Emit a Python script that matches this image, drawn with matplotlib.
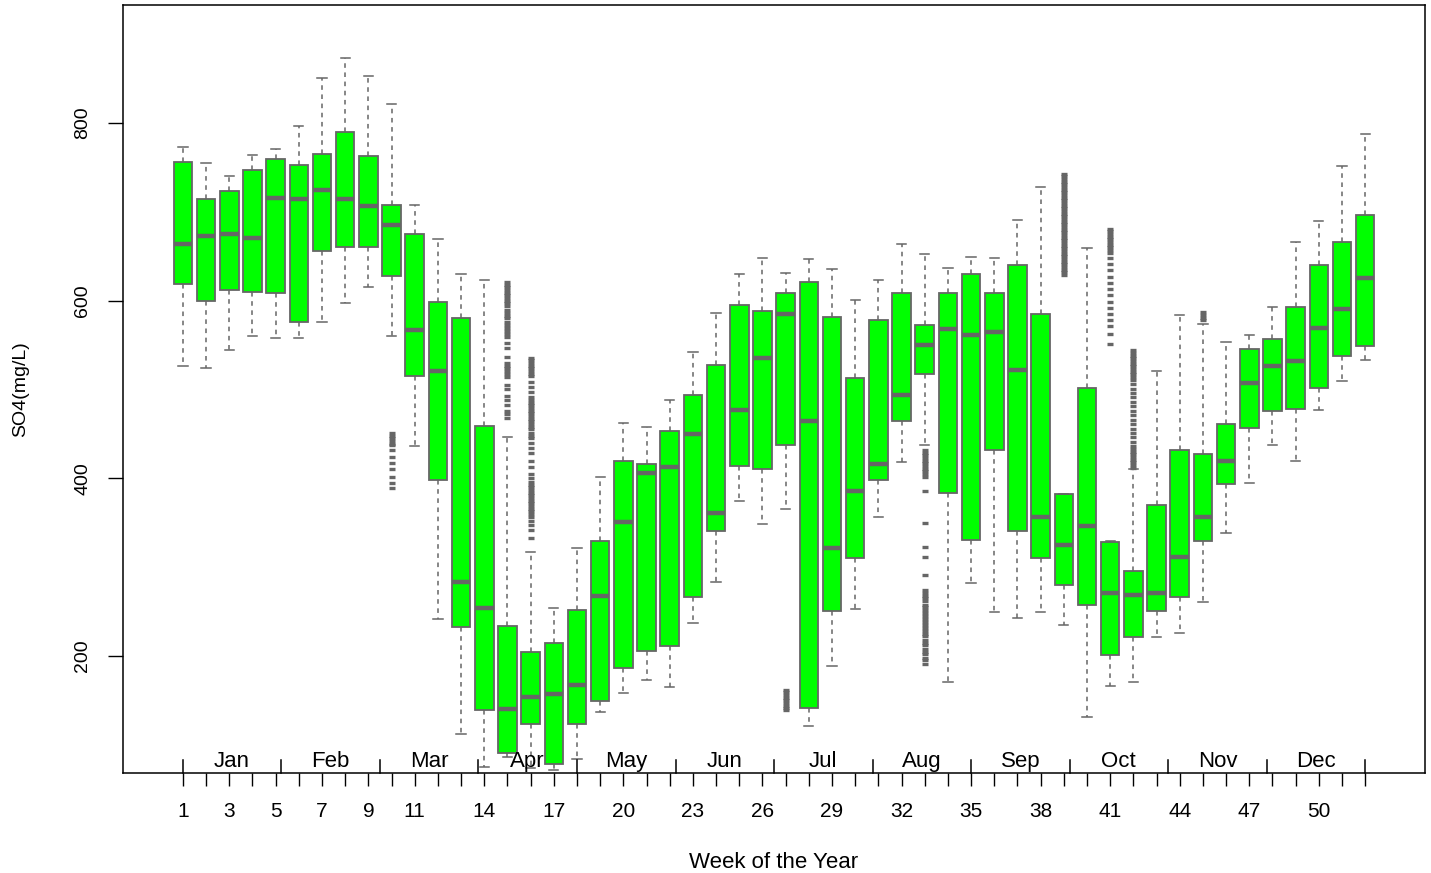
import numpy as np
import matplotlib.pyplot as plt
from matplotlib.transforms import blended_transform_factory

plt.rcParams['font.family'] = ['Liberation Sans', 'DejaVu Sans']

# weekly SO4 box statistics (mg/L), weeks 1..52
weeks = list(range(1, 53))
q1 = [618.5, 600, 612, 610, 609, 576, 656, 660, 660, 628,
      515, 398, 233, 139, 91, 123, 78.5, 124, 149, 187,
      206, 211, 266, 341, 414, 410, 437, 141, 251, 310,
      398, 465, 518, 384, 331, 432, 341, 310, 280, 257.5,
      201, 221, 251, 267, 329, 394, 457, 476, 478.5, 502,
      538, 549]
med = [664, 673, 675, 671, 716, 714, 725, 714, 707, 685,
       567, 521, 283, 254, 140, 154, 157, 167, 268, 351,
       406, 413, 450, 361, 477, 536, 585, 464, 322, 386,
       416, 494, 550, 568, 561, 565, 522, 356, 325, 346,
       271, 269, 271, 311, 356, 420, 507, 526, 532, 569,
       591, 626]
q3 = [756, 714.5, 723.5, 747.5, 760, 753, 765, 789.5, 763, 708,
      675, 598.5, 580, 458.6, 234, 204, 215, 251.6, 330, 420,
      415.8, 453.3, 494.2, 527.6, 595.2, 588, 609, 621.4, 582, 513.4,
      578.3, 608.3, 573, 608.7, 630, 608.3, 639.8, 585, 382, 501.7,
      328, 296, 370, 432.3, 427, 461.6, 545.2, 556.5, 592.9, 640.5,
      665.7, 696.5]
whis_lo = [526, 524, 544.5, 560, 558, 558, 576, 597, 615, 560,
           436.5, 242, 112, 75.5, 86, 74, 72, 84.5, 137, 158,
           173, 165, 237, 283, 375, 349, 365, 121, 188.5, 253,
           356, 418, 437, 171, 282, 250, 243, 250, 235, 131,
           166, 171, 221.5, 226, 260.5, 338, 395, 437.6, 420, 477,
           509.6, 533]
whis_hi = [773, 755, 740, 764, 771, 797, 851, 873, 853, 821,
           708, 669, 630, 623, 447, 317.5, 254.5, 322, 401, 462,
           458, 488, 542, 586.5, 630, 648, 631, 647, 636, 601,
           623, 664, 653, 636.5, 649.5, 648, 690.5, 728, 382, 659,
           330, 410, 521, 584, 574, 554, 561, 593, 666, 690,
           751, 788]

# outliers by week
outliers = {
    10: [451, 448, 445, 442, 439, 437, 432, 424, 417, 410, 402, 395, 389],
    15: [621, 618, 615, 612, 609, 606, 603, 600, 597, 594, 590, 586, 583,
         580, 576, 573, 569, 566, 562, 559, 552, 547, 537, 530, 527, 524,
         521, 518, 514, 505, 500, 493, 488, 483, 476, 472, 468],
    16: [536, 533, 530, 527, 524, 521, 518, 515, 509, 503, 497, 491, 488,
         485, 482, 479, 476, 473, 470, 467, 464, 461, 458, 455, 451, 448,
         445, 440, 434, 428, 420, 413, 405, 400, 396, 393, 390, 387, 384,
         381, 378, 375, 372, 369, 366, 363, 360, 357, 352, 347, 342, 333],
    27: [162, 159, 156, 153, 150, 147, 144, 141, 139],
    33: [432, 429, 426, 423, 420, 417, 414, 411, 408, 405, 402, 386, 350,
         323, 312, 291, 274, 271, 268, 265, 262, 258, 255, 252, 248, 245,
         242, 238, 235, 231, 228, 225, 222, 218, 215, 212, 208, 205, 202,
         198, 195, 191],
    39: [743, 740, 737, 734, 731, 728, 725, 722, 719, 716, 713, 710, 707,
         704, 701, 698, 695, 692, 689, 686, 683, 680, 677, 674, 671, 668,
         665, 662, 659, 656, 653, 650, 647, 644, 641, 638, 635, 632, 629],
    41: [681, 678, 675, 672, 669, 666, 663, 660, 657, 654, 648, 641, 634,
         627, 620, 613, 606, 599, 592, 585, 578, 571, 562, 551],
    42: [544, 541, 538, 535, 532, 529, 526, 523, 520, 517, 514, 511, 506,
         501, 496, 491, 486, 481, 476, 471, 466, 461, 456, 451, 446, 441,
         436, 433, 430, 427, 424, 421, 418, 415, 412],
    45: [587, 584, 581, 578],
}

months = ["Jan", "Feb", "Mar", "Apr", "May", "Jun",
          "Jul", "Aug", "Sep", "Oct", "Nov", "Dec"]
week_labels = [1, 3, 5, 7, 9, 11, 14, 17, 20, 23, 26, 29, 32, 35, 38, 41, 44, 47, 50]

stats = []
for i, w in enumerate(weeks):
    stats.append(dict(med=med[i], q1=q1[i], q3=q3[i],
                      whislo=whis_lo[i], whishi=whis_hi[i],
                      fliers=outliers.get(w, [])))

fig = plt.figure(figsize=(14.31, 8.73), dpi=100)
ax = fig.add_axes([0.086, 0.1145, 0.9098, 0.8798])

gray = "#666666"
ax.bxp(stats, positions=weeks, widths=0.8, capwidths=0.4, patch_artist=True,
       boxprops=dict(facecolor="#00ff00", edgecolor=gray, linewidth=1.3),
       medianprops=dict(color=gray, linewidth=3.2, solid_capstyle="butt"),
       whiskerprops=dict(color=gray, linewidth=1.1, linestyle=(0, (3, 3))),
       capprops=dict(color=gray, linewidth=1.1),
       flierprops=dict(marker="_", markersize=4, markeredgewidth=2.4,
                       markeredgecolor=gray, linestyle="none"))

ax.set_xlim(-1.58, 54.58)
ax.set_ylim(68.3, 932.8)

# week axis
ax.set_xticks(weeks)
ax.set_xticklabels([str(w) if w in week_labels else "" for w in weeks])
ax.tick_params(axis="x", direction="out", length=9, width=1, pad=12, labelsize=15)

# value axis
ax.set_yticks([200, 400, 600, 800])
ax.set_yticklabels(["200", "400", "600", "800"], rotation=90, va="center")
ax.tick_params(axis="y", direction="out", length=11, width=1, pad=12, labelsize=14)

for s in ax.spines.values():
    s.set_linewidth(1.1)
    s.set_color("black")

# month markers along the bottom, inside the frame
trans = blended_transform_factory(ax.transData, ax.transAxes)
mpos = np.linspace(1, 52, 13)
for p in mpos:
    ax.plot([p, p], [0, 0.017], color="black", linewidth=1.1,
            transform=trans, clip_on=False)
for k, m in enumerate(months):
    ax.text((mpos[k] + mpos[k + 1]) / 2, 0.002, m, transform=trans,
            ha="center", va="bottom", fontsize=16)

ax.set_xlabel("Week of the Year", fontsize=16)
ax.xaxis.set_label_coords(0.5, -0.117)
ax.xaxis.label.set_va("center")
ax.set_ylabel("SO4(mg/L)", fontsize=14)
ax.yaxis.set_label_coords(-0.079, 0.5)
ax.yaxis.label.set_va("center")

fig.savefig("out.png", dpi=100)
